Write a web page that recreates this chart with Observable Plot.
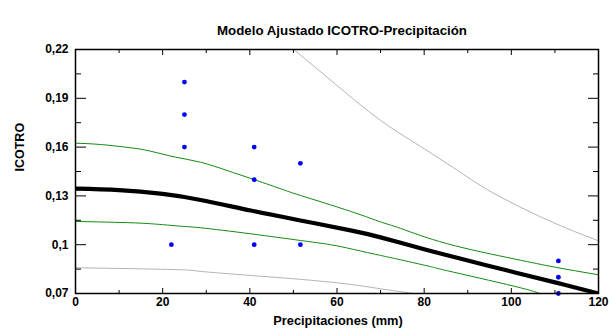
<!DOCTYPE html>
<html><head><meta charset="utf-8">
<script src="https://cdn.jsdelivr.net/npm/d3@7"></script>
<script src="https://cdn.jsdelivr.net/npm/@observablehq/plot@0.6"></script>
<style>html,body{margin:0;padding:0;background:#fff} svg{display:block}</style>
</head><body><div id="chart"></div>
<script>
const title = "Modelo Ajustado ICOTRO-Precipitación";
const xLabel = "Precipitaciones (mm)";
const yLabel = "ICOTRO";
const xTicks = [0, 20, 40, 60, 80, 100, 120];
const xMinorTicks = [10, 30, 50, 70, 90, 110];
const yTicks = [0.07, 0.10, 0.13, 0.16, 0.19, 0.22];
const yMinorTicks = [0.085, 0.115, 0.145, 0.175, 0.205];

// observed points
const obsX = [22, 25, 25, 25, 41, 41, 41, 51.6, 51.6, 110.8, 110.8, 110.8];
const obsY = [0.10, 0.20, 0.18, 0.16, 0.16, 0.14, 0.10, 0.15, 0.10, 0.09, 0.08, 0.07];

// fitted model
const fitX = [0, 10, 20, 28.7, 40.2, 51.6, 63.1, 70, 80, 85.3, 100.6, 111.3, 120];
const fitY = [0.1345, 0.1336, 0.1312, 0.1275, 0.121, 0.1149, 0.1088, 0.1045, 0.0972, 0.0935, 0.0831, 0.076, 0.070];

// confidence limits (mean)
const confUpX = [0, 5.7, 12.6, 17.2, 23, 28.7, 34.8, 41, 47.8, 51.6, 63.1, 70, 74.6, 85.3, 100.6, 110, 120];
const confUpY = [0.1624, 0.1616, 0.1596, 0.1575, 0.1538, 0.1507, 0.1456, 0.140, 0.1337, 0.1303, 0.1205, 0.1140, 0.1100, 0.1006, 0.0913, 0.0862, 0.0815];
const confLoX = [0, 10, 17.2, 24, 28.7, 40.2, 51.6, 58.5, 63.8, 70, 74.6, 81.5, 85.3, 100.6, 106.5];
const confLoY = [0.1143, 0.1137, 0.1129, 0.1114, 0.1104, 0.1067, 0.1026, 0.100, 0.0971, 0.0934, 0.0907, 0.0865, 0.084, 0.0745, 0.070];

// prediction limits
const predUpX = [50.1, 60, 70, 80, 90, 96.5, 108.2, 118.9, 120];
const predUpY = [0.22, 0.1979, 0.1764, 0.159, 0.1415, 0.1308, 0.1153, 0.1035, 0.1025];
const predLoX = [0, 10, 24, 28.7, 40.2, 58.5, 70, 77.7];
const predLoY = [0.0858, 0.0854, 0.0846, 0.0836, 0.0811, 0.077, 0.0729, 0.070];

const fmt = d => String(+d.toFixed(3)).replace(".", ",");
const blank = () => "";
const curveLine = (xs, ys, opts) => Plot.line(xs, {x: xs, y: ys, curve: "natural", clip: true, ...opts});

const chart = Plot.plot({
  width: 609,
  height: 333,
  marginLeft: 75,
  marginRight: 11,
  marginTop: 49,
  marginBottom: 40,
  style: {fontFamily: "'Liberation Sans', Arial, sans-serif", fontSize: "12px", fontWeight: "bold", color: "black", background: "white"},
  x: {domain: [0, 120]},
  y: {domain: [0.07, 0.22]},
  marks: [
    curveLine(predUpX, predUpY, {stroke: "#b4b4b4", strokeWidth: 1}),
    curveLine(predLoX, predLoY, {stroke: "#b4b4b4", strokeWidth: 1}),
    curveLine(confUpX, confUpY, {stroke: "#128a12", strokeWidth: 1}),
    curveLine(confLoX, confLoY, {stroke: "#128a12", strokeWidth: 1}),
    curveLine(fitX, fitY, {stroke: "black", strokeWidth: 4.2}),
    Plot.dot(obsX, {x: obsX, y: obsY, r: 2.4, fill: "#0000ff", stroke: "none"}),
    // inward ticks on all four sides
    Plot.axisX(xTicks, {anchor: "bottom", tickSize: -5, tickFormat: blank, label: null}),
    Plot.axisX(xMinorTicks, {anchor: "bottom", tickSize: -3, tickFormat: blank, label: null}),
    Plot.axisX(xTicks, {anchor: "top", tickSize: -5, tickFormat: blank, label: null}),
    Plot.axisX(xMinorTicks, {anchor: "top", tickSize: -3, tickFormat: blank, label: null}),
    Plot.axisY(yTicks, {anchor: "left", tickSize: -11, tickFormat: blank, label: null}),
    Plot.axisY(yMinorTicks, {anchor: "left", tickSize: -6, tickFormat: blank, label: null}),
    Plot.axisY(yTicks, {anchor: "right", tickSize: -11, tickFormat: blank, label: null}),
    Plot.axisY(yMinorTicks, {anchor: "right", tickSize: -6, tickFormat: blank, label: null}),
    // tick labels
    Plot.axisX(xTicks, {anchor: "bottom", tickSize: 0, tickPadding: 4, tickFormat: d => String(d), label: null}),
    Plot.axisY(yTicks, {anchor: "left", tickSize: 0, tickPadding: 7, tickFormat: fmt, label: null}),
    Plot.frame({stroke: "black", strokeWidth: 1.5}),
    // titles
    Plot.text([title], {frameAnchor: "top", dx: 5, dy: -24, text: d => d, fontSize: 13.3, fontWeight: "bold"}),
    Plot.text([xLabel], {frameAnchor: "bottom", dx: 1, dy: 31, text: d => d, fontSize: 12.8, fontWeight: "bold"}),
    Plot.text([yLabel], {frameAnchor: "left", dx: -56, rotate: -90, text: d => d, fontSize: 12.5, fontWeight: "bold"})
  ]
});
document.getElementById("chart").appendChild(chart);
</script>
</body></html>
